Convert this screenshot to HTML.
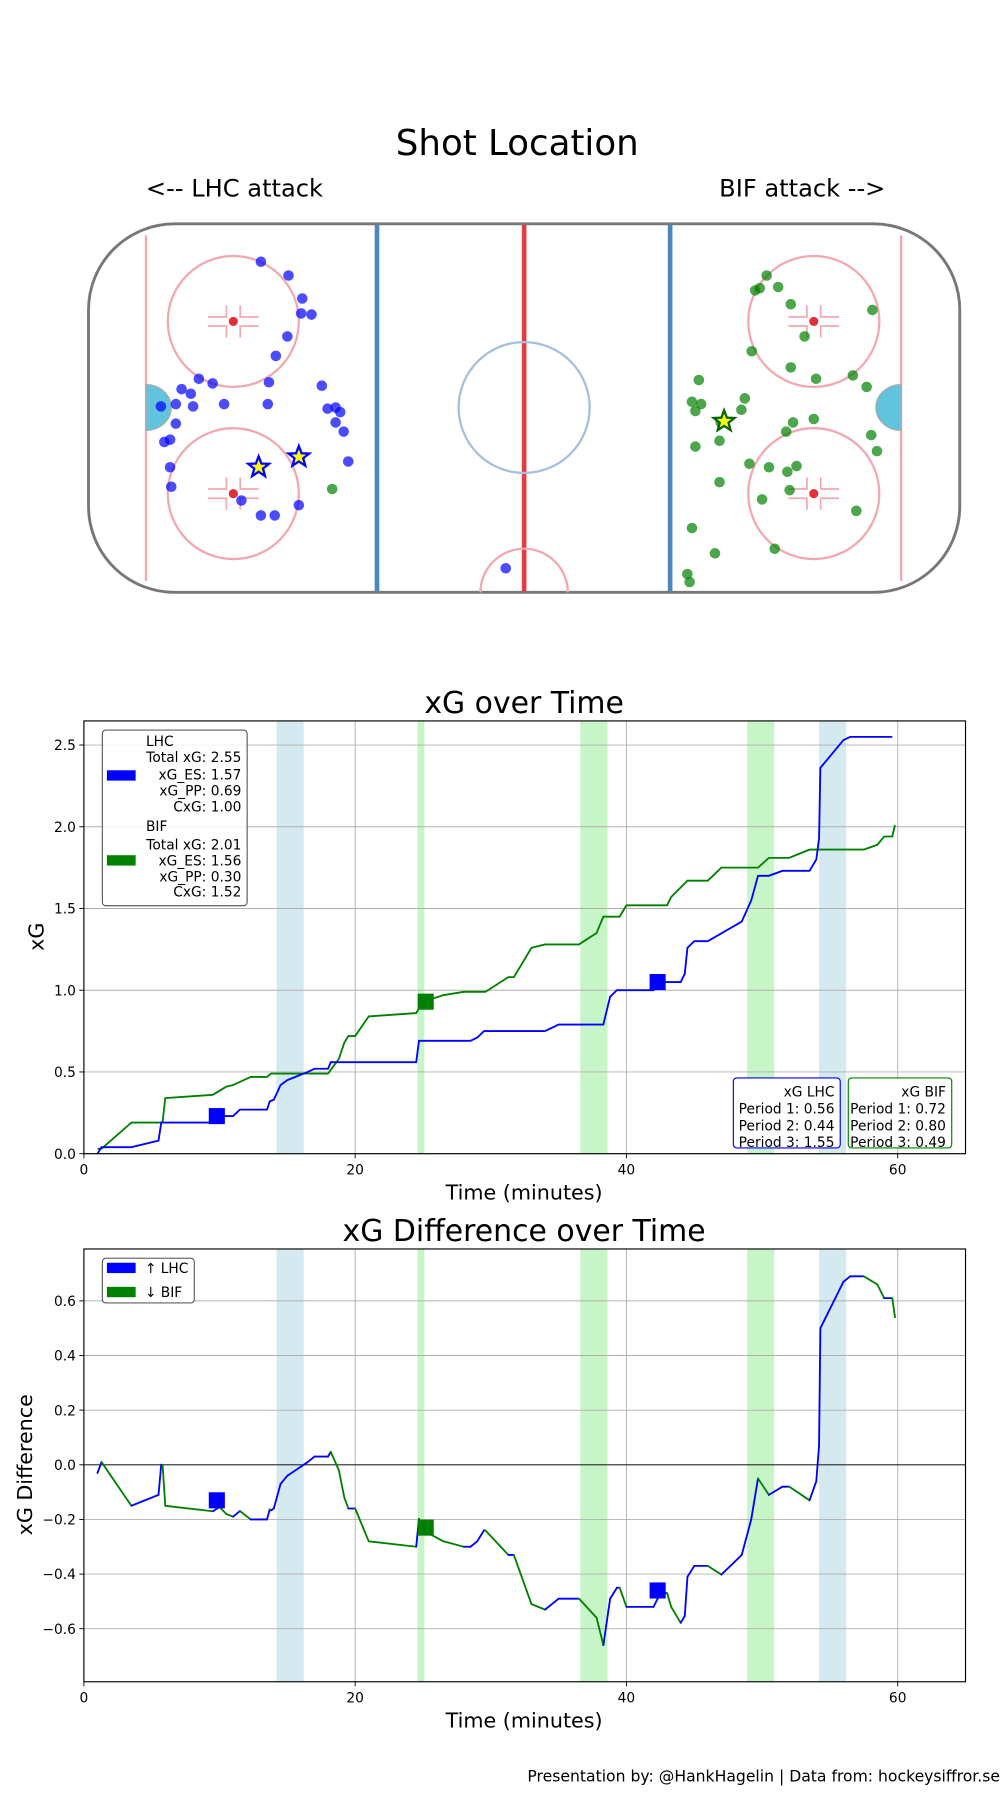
<!DOCTYPE html>
<html><head><meta charset="utf-8"><style>
html,body{margin:0;padding:0;background:#fff}
svg{display:block}
text{font-family:"DejaVu Sans","Liberation Sans",sans-serif;fill:#000}
</style></head><body>
<svg id="s" width="1000" height="1800" viewBox="0 0 870 1568" preserveAspectRatio="none" xmlns="http://www.w3.org/2000/svg">
<rect width="870" height="1568" fill="#fff"/>
<text x="450" y="135" font-size="31" text-anchor="middle">Shot Location</text>
<text x="204" y="171" font-size="21" text-anchor="middle">&lt;-- LHC attack</text>
<text x="698" y="171" font-size="21" text-anchor="middle">BIF attack --&gt;</text>
<g>
<rect x="77" y="195" width="758" height="321" rx="75" ry="75" fill="#fff" stroke="#777" stroke-width="2.5"/>
<line x1="127" y1="205" x2="127" y2="506" stroke="#f2a8b0" stroke-width="2"/>
<line x1="784" y1="205" x2="784" y2="506" stroke="#f2a8b0" stroke-width="2"/>
<line x1="328" y1="196" x2="328" y2="515" stroke="#4a86bf" stroke-width="4"/>
<line x1="583" y1="196" x2="583" y2="515" stroke="#4a86bf" stroke-width="4"/>
<line x1="456" y1="196" x2="456" y2="515" stroke="#e43a44" stroke-width="4"/>
<circle cx="456" cy="355" r="57" fill="none" stroke="#a4c0dc" stroke-width="2"/>
<path d="M418 516 A38 38 0 0 1 494 516" fill="none" stroke="#f2a8b0" stroke-width="2"/>
<path d="M127 335 A22 20 0 0 1 127 375 Z" fill="#62c4dc" stroke="#aaa" stroke-width="1"/>
<path d="M784 335 A22 20 0 0 0 784 375 Z" fill="#62c4dc" stroke="#aaa" stroke-width="1"/>
<g id="fo"></g>
<g id="shots"></g>
</g>
<text x="456" y="621" font-size="26" text-anchor="middle">xG over Time</text>
<g id="c1"></g>
<text x="456" y="1081" font-size="26" text-anchor="middle">xG Difference over Time</text>
<g id="c2"></g>
<text x="870" y="1552" font-size="13.6" text-anchor="end">Presentation by: @HankHagelin | Data from: hockeysiffror.se</text>
</svg>
<script>
const NS="http://www.w3.org/2000/svg";
function el(p,t,a,txt){const e=document.createElementNS(NS,t);for(const k in a)e.setAttribute(k,a[k]);if(txt!==undefined)e.textContent=txt;p.appendChild(e);return e;}
const fo=document.getElementById('fo');
[[203,280],[203,430],[708,280],[708,430]].forEach(([x,y])=>{
 el(fo,'circle',{cx:x,cy:y,r:57,fill:'none',stroke:'#f2a8b0','stroke-width':2});
 el(fo,'circle',{cx:x,cy:y,r:4,fill:'#e0303a'});
 el(fo,'path',{d:`M${x-22} ${y-4}H${x-6}V${y-14} M${x+22} ${y-4}H${x+6}V${y-14} M${x-22} ${y+4}H${x-6}V${y+14} M${x+22} ${y+4}H${x+6}V${y+14}`,fill:'none',stroke:'#f2a8b0','stroke-width':1.5});
});
const sh=document.getElementById('shots');
const blue=[[227,228],[251,240],[263,260],[271,274],[262,273],[250,293],[240,310],[173,330],[185,334],[234,333],[280,336],[158,339],[166,343],[153,352],[168,354],[195,352],[233,352],[292,355],[285,356],[296,359],[140,354],[292,368],[153,369],[299,376],[148,383],[143,385],[303,402],[148,407],[149,424],[210,436],[260,440],[227,449],[239,449],[440,495]];
const green=[[289,426],[667,240],[661,251],[657,253],[677,250],[759,270],[688,265],[700,293],[654,306],[688,320],[742,327],[710,330],[608,331],[754,337],[602,350],[648,347],[610,352],[645,357],[605,358],[627,368],[708,365],[690,368],[684,376],[626,384],[605,389],[758,379],[763,393],[652,404],[669,407],[693,406],[685,411],[626,420],[687,427],[663,435],[745,445],[602,460],[622,482],[674,478],[598,500],[600,507]];
blue.forEach(([x,y])=>el(sh,'circle',{cx:x,cy:y,r:4.6,fill:'rgba(0,0,255,0.7)'}));
green.forEach(([x,y])=>el(sh,'circle',{cx:x,cy:y,r:4.6,fill:'rgba(0,128,0,0.7)'}));
function star(x,y,c){let d='';for(let i=0;i<10;i++){const r=i%2?4:9.5,a=-Math.PI/2+i*Math.PI/5;d+=(i?'L':'M')+(x+r*Math.cos(a)).toFixed(1)+' '+(y+r*Math.sin(a)).toFixed(1);}el(sh,'path',{d:d+'Z',fill:'yellow',stroke:c,'stroke-width':2});}
star(225,407,'#0000ff');star(260,398,'#0000ff');star(630,367,'#006400');

const X0=73,X1=840,PX=(781-73)/60;
const tx=t=>X0+t*PX;
const L=[[1,0],[1.3,0.04],[3.5,0.04],[5.5,0.08],[5.7,0.19],[9.5,0.19],[10,0.23],[11,0.23],[11.5,0.27],[13.5,0.27],[13.7,0.32],[14,0.33],[14.5,0.42],[15,0.45],[16.5,0.5],[17,0.52],[18,0.52],[18.2,0.56],[24.5,0.56],[24.7,0.69],[28.5,0.69],[29,0.71],[29.5,0.75],[34,0.75],[35,0.79],[38.3,0.79],[38.8,0.96],[39.3,1.0],[42,1.0],[42.5,1.05],[44,1.05],[44.3,1.1],[44.5,1.26],[45,1.30],[46,1.30],[48.5,1.42],[49.2,1.55],[49.7,1.70],[50.5,1.70],[51.5,1.73],[53.5,1.73],[54,1.80],[54.2,1.93],[54.3,2.36],[56,2.53],[56.5,2.55],[59.6,2.55]];
const B=[[1,0.03],[1.3,0.03],[3.5,0.19],[5.8,0.19],[6,0.34],[9.5,0.36],[10.5,0.41],[11,0.42],[12.3,0.47],[13.5,0.47],[13.8,0.49],[18,0.49],[18.8,0.58],[19.2,0.68],[19.5,0.72],[20,0.72],[21,0.84],[24.5,0.86],[25,0.93],[26.5,0.97],[28,0.99],[29.6,0.99],[31.3,1.08],[31.7,1.08],[33,1.26],[34,1.28],[36.5,1.28],[37.8,1.35],[38.3,1.45],[39.5,1.45],[40,1.52],[43,1.52],[43.3,1.57],[44.5,1.67],[46,1.67],[47,1.75],[49.7,1.75],[50.5,1.81],[52,1.81],[53.5,1.86],[57.5,1.86],[58.5,1.89],[59,1.94],[59.6,1.94],[59.8,2.01]];
const bands=[[14.2,16.2,'#d4eaf0'],[54.2,56.2,'#d4eaf0'],[24.6,25.1,'#c8f5c8'],[36.6,38.6,'#c8f5c8'],[48.9,50.9,'#c8f5c8']];
function axes(g,top,bot,yticks,ymap,fmt){
 bands.forEach(([a,b,c])=>el(g,'rect',{x:tx(a),y:top,width:tx(b)-tx(a),height:bot-top,fill:c}));
 [20,40,60].forEach(t=>el(g,'line',{x1:tx(t),x2:tx(t),y1:top,y2:bot,stroke:'#b0b0b0','stroke-width':0.8}));
 yticks.forEach(v=>{const y=ymap(v);el(g,'line',{x1:X0,x2:X1,y1:y,y2:y,stroke:'#b0b0b0','stroke-width':0.8});
  el(g,'line',{x1:X0-4,x2:X0,y1:y,y2:y,stroke:'#000','stroke-width':0.8});
  el(g,'text',{x:X0-7,y:y+4.5,'font-size':12,'text-anchor':'end'},fmt(v));});
 [0,20,40,60].forEach(t=>{el(g,'line',{x1:tx(t),x2:tx(t),y1:bot,y2:bot+4,stroke:'#000','stroke-width':0.8});
  el(g,'text',{x:tx(t),y:bot+18,'font-size':12,'text-anchor':'middle'},String(t));});
}
function poly(g,pts,ymap,c){el(g,'polyline',{points:pts.map(([t,v])=>tx(t).toFixed(1)+','+ymap(v).toFixed(1)).join(' '),fill:'none',stroke:c,'stroke-width':1.6});}
function sq(g,t,y,c){el(g,'rect',{x:tx(t)-7,y:y-7,width:14,height:14,fill:c});}
const c1=document.getElementById('c1');
const y1=v=>1005-v*142.4;
axes(c1,628,1005,[0,0.5,1,1.5,2,2.5],y1,v=>v.toFixed(1));
poly(c1,B,y1,'#008000');poly(c1,L,y1,'#0000ff');
sq(c1,9.8,y1(0.23),'#0000ff');sq(c1,42.3,y1(1.05),'#0000ff');sq(c1,25.2,y1(0.93),'#008000');
el(c1,'rect',{x:X0,y:628,width:X1-X0,height:377,fill:'none',stroke:'#000','stroke-width':1});
el(c1,'text',{x:456,y:1045,'font-size':18,'text-anchor':'middle'},'Time (minutes)');
el(c1,'text',{x:0,y:0,'font-size':18,'text-anchor':'middle',transform:'translate(38,816) rotate(-90)'},'xG');
el(c1,'rect',{x:89,y:636,width:126,height:153,rx:3,fill:'#fff','fill-opacity':0.85,stroke:'#333','stroke-width':0.8});
el(c1,'rect',{x:93,y:671,width:25,height:9,fill:'#0000ff'});
el(c1,'rect',{x:93,y:745,width:25,height:9,fill:'#008000'});
[['LHC',650,0],['Total xG: 2.55',664,1],['xG_ES: 1.57',679,1],['xG_PP: 0.69',693,1],['CxG: 1.00',707,1],['BIF',724,0],['Total xG: 2.01',740,1],['xG_ES: 1.56',754,1],['xG_PP: 0.30',768,1],['CxG: 1.52',781,1]].forEach(([s,y,r])=>{
 el(c1,'text',r?{x:210,y:y,'font-size':12,'text-anchor':'end'}:{x:127,y:y,'font-size':12},s);});
el(c1,'rect',{x:638,y:939,width:93,height:61,rx:3,fill:'#fff',stroke:'#0000ff','stroke-width':1});
el(c1,'rect',{x:738,y:939,width:90,height:61,rx:3,fill:'#fff',stroke:'#008000','stroke-width':1});
[['xG LHC','Period 1: 0.56','Period 2: 0.44','Period 3: 1.55',726],['xG BIF','Period 1: 0.72','Period 2: 0.80','Period 3: 0.49',823]].forEach(a=>{
 [955,970,985,999].forEach((y,i)=>el(c1,'text',{x:a[4],y:y,'font-size':12,'text-anchor':'end'},a[i]));});
const c2=document.getElementById('c2');
const y2=v=>1276-v*238;
axes(c2,1088,1465,[-0.6,-0.4,-0.2,0,0.2,0.4,0.6],y2,v=>(v<0?'\u2212':'')+Math.abs(v).toFixed(1));
el(c2,'line',{x1:X0,x2:X1,y1:y2(0),y2:y2(0),stroke:'#000','stroke-width':0.8});
function val(arr,t){if(t<=arr[0][0])return arr[0][1];for(let i=1;i<arr.length;i++){if(t<=arr[i][0]){const[a,va]=arr[i-1],[b,vb]=arr[i];return va+(vb-va)*(t-a)/(b-a);}}return arr[arr.length-1][1];}
const ts=[...new Set([...L.map(p=>p[0]),...B.map(p=>p[0])])].sort((a,b)=>a-b);
const D=ts.map(t=>[t,val(L,t)-val(B,t)]);
for(let i=1;i<D.length;i++){const c=D[i][1]>=D[i-1][1]?'#0000ff':'#008000';
 el(c2,'line',{x1:tx(D[i-1][0]),y1:y2(D[i-1][1]),x2:tx(D[i][0]),y2:y2(D[i][1]),stroke:c,'stroke-width':1.6,'stroke-linecap':'round'});}
sq(c2,9.8,y2(-0.13),'#0000ff');sq(c2,25.2,y2(-0.23),'#008000');sq(c2,42.3,y2(-0.46),'#0000ff');
el(c2,'rect',{x:X0,y:1088,width:X1-X0,height:377,fill:'none',stroke:'#000','stroke-width':1});
el(c2,'text',{x:456,y:1505,'font-size':18,'text-anchor':'middle'},'Time (minutes)');
el(c2,'text',{x:0,y:0,'font-size':18,'text-anchor':'middle',transform:'translate(28,1276) rotate(-90)'},'xG Difference');
el(c2,'rect',{x:89,y:1096,width:80,height:39,rx:3,fill:'#fff',stroke:'#333','stroke-width':0.8});
el(c2,'rect',{x:93,y:1100,width:25,height:9,fill:'#0000ff'});
el(c2,'rect',{x:93,y:1121,width:25,height:9,fill:'#008000'});
el(c2,'text',{x:126,y:1109,'font-size':12},'\u2191 LHC');
el(c2,'text',{x:126,y:1130,'font-size':12},'\u2193 BIF');
</script>
</body></html>
